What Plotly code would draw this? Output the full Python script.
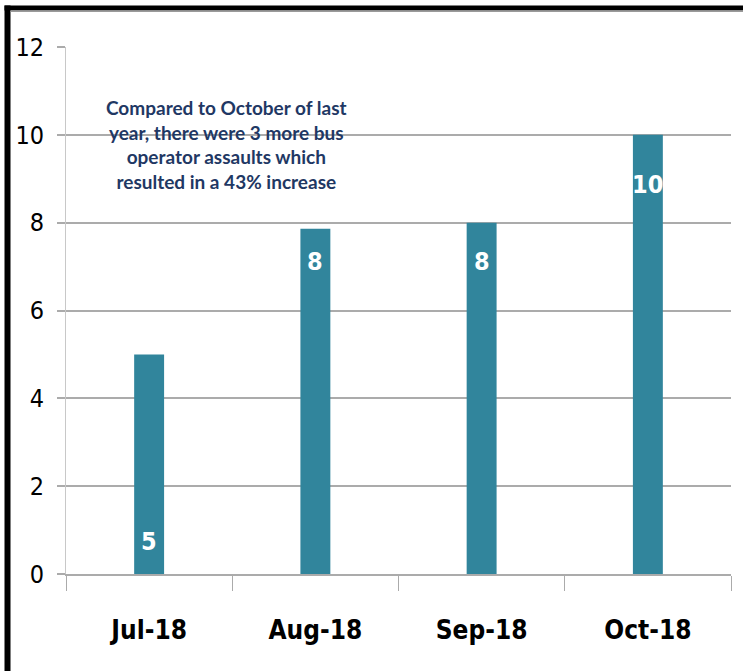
import plotly.graph_objects as go

months = ["Jul-18", "Aug-18", "Sep-18", "Oct-18"]
assaults = [5, 7.86, 8, 10]
value_labels = ["5", "8", "8", "10"]
y_ticks = [0, 2, 4, 6, 8, 10, 12]
note = ("Compared to October of last<br>year, there were 3 more bus<br>"
        "operator assaults which<br>resulted in a 43% increase")

BAR = "#31859C"
GRID = "#ABABAB"
NARROW = "Liberation Sans Narrow, Noto Sans Condensed, DejaVu Sans Condensed, DejaVu Sans, sans-serif"

W, H = 743, 671
L, R, T, B = 66, 12, 47, 97
PW, PH = W - L - R, H - T - B


def px_x(p):
    return (p - L) / PW


def px_y(p):
    return 1 - (p - T) / PH


fig = go.Figure(go.Bar(
    x=months, y=assaults, width=0.18,
    marker=dict(color=BAR, line=dict(width=0)),
    hoverinfo="skip",
))

# value labels: (anchor at base?, pixel offset)
label_style = [("base", 33), ("top", -33), ("top", -39), ("top", -50)]
for m, v, t, (anchor, off) in zip(months, assaults, value_labels, label_style):
    fig.add_annotation(
        x=m, y=0 if anchor == "base" else v, text=t, showarrow=False,
        yanchor="middle", yshift=off,
        font=dict(family=NARROW, size=25, color="white", weight="bold"),
    )

fig.add_annotation(
    xref="paper", yref="paper", x=px_x(226), y=px_y(145),
    text=note, showarrow=False, align="center", xanchor="center", yanchor="middle",
    font=dict(family="Lato, Open Sans, sans-serif", size=19, color="#1F3864", weight="bold"),
)

# outer black frame (left and top edges), kept inside the figure bounds
fig.add_shape(type="rect", xref="paper", yref="paper",
              x0=px_x(4.5), x1=px_x(10.5), y0=px_y(5.5), y1=px_y(H),
              line=dict(width=0), fillcolor="black")
fig.add_shape(type="rect", xref="paper", yref="paper",
              x0=px_x(4.5), x1=px_x(W), y0=px_y(5.5), y1=px_y(10.5),
              line=dict(width=0), fillcolor="black")
fig.add_shape(type="rect", xref="paper", yref="paper",
              x0=px_x(10.5), x1=px_x(W), y0=px_y(10.5), y1=px_y(12),
              line=dict(width=0), fillcolor="#9A9A9A")

fig.update_layout(
    width=W, height=H,
    margin=dict(l=L, r=R, t=T, b=B, autoexpand=False),
    paper_bgcolor="white", plot_bgcolor="white",
    showlegend=False, bargap=0.82,
)
fig.update_xaxes(
    type="category", showgrid=False, tickson="boundaries", automargin=False,
    ticks="outside", ticklen=15, tickcolor=GRID, tickwidth=1,
    showline=True, linecolor=GRID, linewidth=2,
    tickfont=dict(family=NARROW, size=26, color="black", weight="bold"),
    ticklabelstandoff=32,
)
fig.update_yaxes(
    range=[0, 12], tickvals=y_ticks, showgrid=True, gridcolor=GRID, gridwidth=2,
    ticks="outside", ticklen=8, tickcolor=GRID, tickwidth=2, automargin=False,
    showline=True, linecolor="#C8C8C8", linewidth=1, zeroline=False,
    tickfont=dict(family=NARROW, size=25, color="black"),
    ticklabelstandoff=8,
)

fig.write_html(
    "out.html",
    config={"displayModeBar": False, "staticPlot": True},
    post_script=("document.body.style.margin='0';document.body.style.overflow='hidden';"
                 "document.documentElement.style.overflow='hidden';"),
)
